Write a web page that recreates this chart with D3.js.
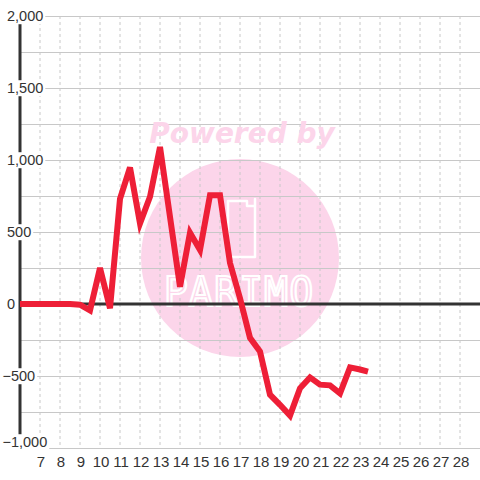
<!DOCTYPE html>
<html><head><meta charset="utf-8">
<script src="https://cdn.jsdelivr.net/npm/d3@7"></script>
<style>html,body{margin:0;padding:0;background:#fff;}svg{display:block;}</style>
</head><body>
<script>
const xValues = [6,6.5,7,7.5,8,8.5,9,9.5,10,10.5,11,11.5,12,12.5,13,13.5,14,14.5,15,15.5,16,16.5,17,17.5,18,18.5,19,19.5,20,20.5,21,21.5,22,22.5,23,23.4];
const yValues = [0,0,0,0,0,0,-5,-45,250,-30,730,948,560,745,1090,605,120,495,375,755,755,285,40,-235,-330,-630,-700,-775,-585,-510,-560,-565,-620,-440,-455,-470];
const yTicks = [-1000,-500,0,500,1000,1500,2000];
const yGrid = [-1000,-750,-500,-250,0,250,500,750,1000,1250,1500,1750,2000];
const xTicks = [7,8,9,10,11,12,13,14,15,16,17,18,19,20,21,22,23,24,25,26,27,28];

const W = 480, H = 480;
const svg = d3.select("body").append("svg").attr("width", W).attr("height", H);
svg.append("rect").attr("width", W).attr("height", H).attr("fill", "#fff");

const x = d3.scaleLinear().domain([6, 29]).range([20, 480]);
const y = d3.scaleLinear().domain([-1000, 2000]).range([448, 16]);

// watermark circle
svg.append("circle").attr("cx", 240).attr("cy", 258).attr("r", 99).attr("fill", "#fcd5ea");

// vertical dashed grid
svg.append("g").selectAll("line").data(xTicks).join("line")
  .attr("x1", d => x(d)).attr("x2", d => x(d))
  .attr("y1", y(2000)).attr("y2", y(-1000))
  .attr("stroke", "#c8c8c8").attr("stroke-width", 1).attr("stroke-dasharray", "3,3");

// horizontal grid
svg.append("g").selectAll("line").data(yGrid).join("line")
  .attr("x1", 20).attr("x2", 480)
  .attr("y1", d => Math.round(y(d)) + 0.5).attr("y2", d => Math.round(y(d)) + 0.5)
  .attr("stroke", "#c8c8c8").attr("stroke-width", 1.2);

// watermark text and logo
svg.append("text").attr("x", 242).attr("y", 143).attr("text-anchor", "middle")
  .attr("font-family", "DejaVu Sans, sans-serif").attr("font-weight", "bold").attr("font-style", "italic")
  .attr("font-size", 28).attr("fill", "#fcd5ea").text("Powered by");
svg.append("path")
  .attr("d", "M228,201 L247,201 L247,206 L255,206 L255,199 L255,257 L228,257 Z")
  .attr("fill", "none").attr("stroke", "#fff").attr("stroke-width", 2.5).attr("stroke-linejoin", "round");
svg.append("text").attr("x", 239).attr("y", 306).attr("text-anchor", "middle")
  .attr("font-family", "DejaVu Sans Mono, monospace").attr("font-size", 40)
  .attr("letter-spacing", 1)
  .attr("fill", "none").attr("stroke", "#fff").attr("stroke-width", 2.2).text("PARIMO");

// y axis line
svg.append("line").attr("x1", 20).attr("x2", 20).attr("y1", y(2000)).attr("y2", y(-1000))
  .attr("stroke", "#333").attr("stroke-width", 3);

// zero line
svg.append("line").attr("x1", 20).attr("x2", 480).attr("y1", y(0)).attr("y2", y(0))
  .attr("stroke", "#333").attr("stroke-width", 3);

// y labels with white background (left aligned)
const fmt = d3.format(",");
const yl = svg.append("g");
yTicks.forEach(t => {
  let cy = y(t);
  if (cy > 442) cy = 442;
  const g = yl.append("g");
  const txt = g.append("text").attr("x", t < 0 ? 2.5 : 7).attr("y", cy).attr("dy", "0.36em")
    .attr("text-anchor", "start").attr("font-family", "Liberation Sans, Arial, sans-serif")
    .attr("font-size", 14.5).attr("fill", "#333").text(fmt(t));
  const bb = txt.node().getBBox();
  g.insert("rect", "text").attr("x", bb.x - 1).attr("y", bb.y).attr("width", bb.width + 3).attr("height", bb.height)
    .attr("fill", "#fff");
});

// data line
const line = d3.line().x((d, i) => x(xValues[i])).y(d => y(d));
svg.append("path").datum(yValues).attr("d", line)
  .attr("fill", "none").attr("stroke", "#ee1f37").attr("stroke-width", 6)
  .attr("stroke-linejoin", "miter").attr("stroke-linecap", "butt");

// x labels
svg.append("g").selectAll("text").data(xTicks).join("text")
  .attr("x", d => x(d) + 1).attr("y", 462).attr("dy", "0.36em").attr("text-anchor", "middle")
  .attr("font-family", "Liberation Sans, Arial, sans-serif").attr("font-size", 15).attr("fill", "#333")
  .text(d => d);
</script>
</body></html>
